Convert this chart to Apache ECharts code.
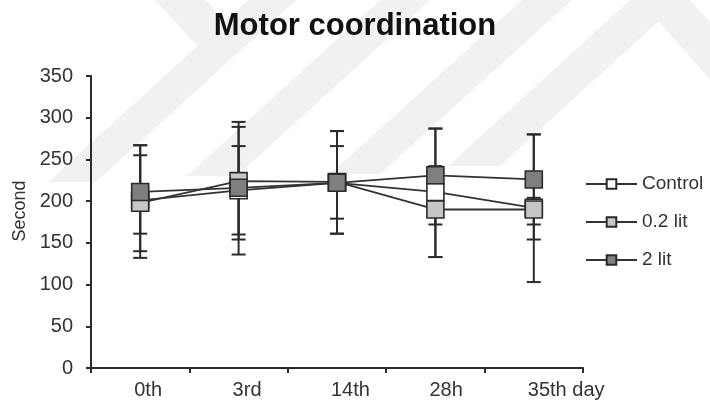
<!DOCTYPE html>
<html>
<head>
<meta charset="utf-8">
<script src="https://cdn.jsdelivr.net/npm/echarts@6/dist/echarts.min.js"></script>
<style>
html,body{margin:0;padding:0;background:#fff;}
#chart{width:710px;height:412px;}
</style>
</head>
<body>
<div id="chart"></div>
<script>
// ---- data ----
var categories = ['0th', '3rd', '14th', '28h', '35th day'];
var seriesNames = ['Control', '0.2 lit', '2 lit'];

var controlMean = [201, 213, 222, 211, 192];
var controlHigh = [267, 266, 284, 287, 280];
var controlLow  = [132, 160, 161, 133, 103];

var lit02Mean = [198, 224, 223, 190, 190];
var lit02High = [255, 295, 266, 242, 204];
var lit02Low  = [140, 154, 179, 133, 154];

var lit2Mean = [211, 216, 222, 231, 226];
var lit2High = [267, 289, 284, 287, 280];
var lit2Low  = [161, 136, 161, 172, 172];

var yTicks = [0, 50, 100, 150, 200, 250, 300, 350];

// ---- styling ----
var FONT = "'Liberation Sans', Arial, sans-serif";
var fills = ['#ffffff', '#c6c6c6', '#7f7f7f'];
var means = [controlMean, lit02Mean, lit2Mean];
var highs = [controlHigh, lit02High, lit2High];
var lows  = [controlLow, lit02Low, lit2Low];

function errData(hi, lo) {
  return categories.map(function (c, i) { return [i, hi[i], lo[i]]; });
}

function renderErr(params, api) {
  var top = api.coord([api.value(0), api.value(1)]);
  var bot = api.coord([api.value(0), api.value(2)]);
  var hw = 7;
  var st = { stroke: '#2b2b2b', lineWidth: 2 };
  return {
    type: 'group',
    children: [
      { type: 'line', shape: { x1: top[0], y1: top[1], x2: bot[0], y2: bot[1] }, style: st },
      { type: 'line', shape: { x1: top[0] - hw, y1: top[1], x2: top[0] + hw, y2: top[1] }, style: st },
      { type: 'line', shape: { x1: bot[0] - hw, y1: bot[1], x2: bot[0] + hw, y2: bot[1] }, style: st }
    ]
  };
}

var series = [];
for (var k = 0; k < 3; k++) {
  series.push({
    name: seriesNames[k] + ' err',
    type: 'custom',
    renderItem: renderErr,
    data: errData(highs[k], lows[k]),
    encode: { x: 0, y: [1, 2] },
    z: 2,
    silent: true
  });
}
for (var j = 0; j < 3; j++) {
  series.push({
    name: seriesNames[j],
    type: 'line',
    data: means[j],
    symbol: 'rect',
    symbolSize: 17,
    z: 5 + j,
    lineStyle: { color: '#333333', width: 1.8 },
    itemStyle: { color: fills[j], borderColor: '#2b2b2b', borderWidth: 1.6, opacity: 1 },
    emphasis: { disabled: true },
    animation: false
  });
}

// faint background watermark bands (decoration)
var wm = '#f1f1f1';
var bands = [
  [[48,182],[96,182],[296,0],[248,0]],
  [[187,176],[237,176],[430,0],[380,0]],
  [[330,174],[380,174],[572,0],[522,0]],
  [[448,166],[500,166],[682,0],[630,0]],
  [[155,0],[205,0],[242,38],[214,64]],
  [[640,0],[690,0],[710,22],[710,80]]
];
var graphics = bands.map(function (p) {
  return { type: 'polygon', z: -10, silent: true, shape: { points: p }, style: { fill: wm } };
});

var chart = echarts.init(document.getElementById('chart'), null, { renderer: 'canvas' });
chart.setOption({
  animation: false,
  backgroundColor: '#ffffff',
  graphic: graphics,
  title: {
    text: 'Motor coordination',
    left: 'center',
    top: 6,
    textStyle: { fontFamily: FONT, fontSize: 31, fontWeight: 'bold', color: '#111' }
  },
  legend: {
    data: seriesNames,
    orient: 'vertical',
    left: 585,
    top: 174,
    padding: 0,
    itemWidth: 51,
    itemHeight: 12,
    itemGap: 18,
    selectedMode: false,
    textStyle: { fontFamily: FONT, fontSize: 19, color: '#333', lineHeight: 20 }
  },
  grid: { left: 91, right: 127, top: 76, bottom: 44, containLabel: false },
  xAxis: {
    type: 'category',
    data: categories,
    boundaryGap: true,
    axisLine: { lineStyle: { color: '#2b2b2b', width: 2 } },
    axisTick: { show: true, length: 5, lineStyle: { color: '#2b2b2b', width: 2 } },
    axisLabel: {
      interval: 0,
      fontFamily: FONT, fontSize: 20, color: '#333', margin: 12,
      align: 'left', padding: [0, 0, 0, -6]
    },
    splitLine: { show: false }
  },
  yAxis: {
    type: 'value',
    min: 0,
    max: 350,
    interval: 50,
    name: 'Second',
    nameLocation: 'middle',
    nameRotate: 90,
    nameGap: 62,
    nameTextStyle: { fontFamily: FONT, fontSize: 18, color: '#333', padding: [0, 0, 0, 22] },
    axisLine: { show: true, lineStyle: { color: '#2b2b2b', width: 2 } },
    axisTick: { show: true, length: 5, lineStyle: { color: '#2b2b2b', width: 2 } },
    axisLabel: {
      fontFamily: FONT, fontSize: 20, color: '#333', margin: 18,
      formatter: function (v) { return yTicks.indexOf(v) >= 0 ? String(v) : ''; }
    },
    splitLine: { show: false }
  },
  series: series
});
</script>
</body>
</html>
